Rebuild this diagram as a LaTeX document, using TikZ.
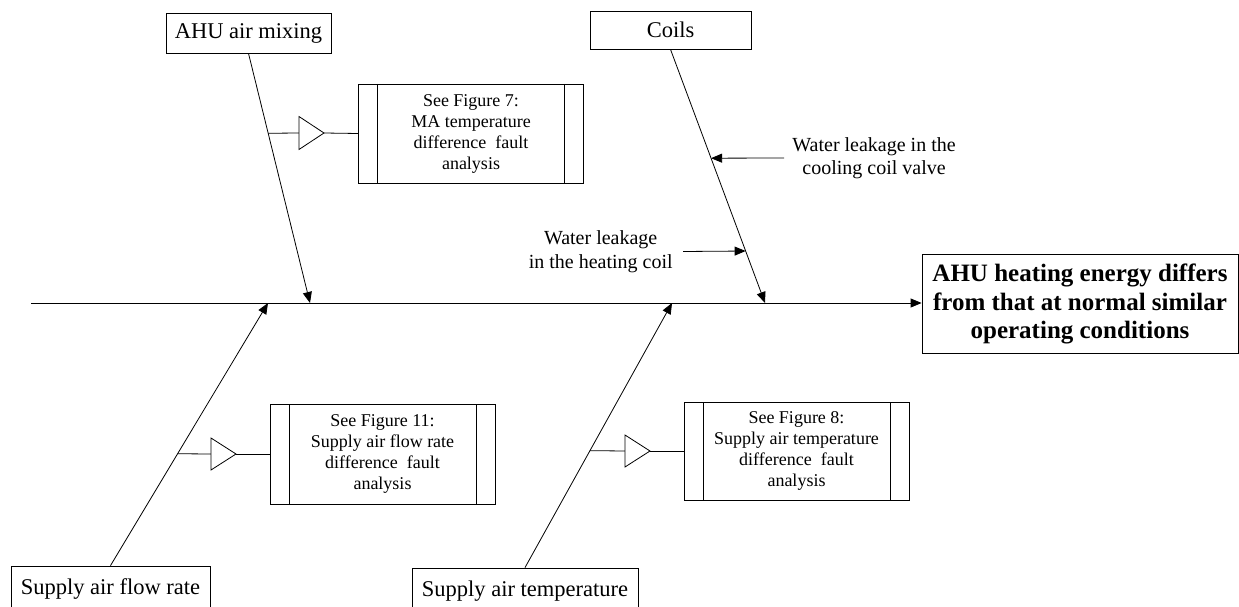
\documentclass[tikz,border=0pt]{standalone}
\usepackage{fontspec}
\setmainfont{Liberation Serif}
\usetikzlibrary{arrows.meta}

\begin{document}
\begin{tikzpicture}[x=1pt, y=-1pt, line width=0.8pt,
  catbox/.style={draw, fill=white, inner sep=0pt, align=center,
    font=\fontsize{22.5}{26}\selectfont},
  subbox/.style={draw, fill=white, inner sep=0pt, align=center,
    minimum width=225pt, minimum height=99pt,
    font=\fontsize{18}{21}\selectfont,
    path picture={
      \draw ([xshift=19pt]path picture bounding box.north west) -- ([xshift=19pt]path picture bounding box.south west);
      \draw ([xshift=-19pt]path picture bounding box.north east) -- ([xshift=-19pt]path picture bounding box.south east);
    }},
  causelabel/.style={inner ysep=0pt, align=center, font=\fontsize{20}{23.5}\selectfont},
  arr/.style={-{Triangle[length=11pt, width=9pt]}},
  tri/.style={draw, fill=white}
]
\useasboundingbox (0,0) rectangle (1239,607);

% effect (head of the fishbone)
\node[draw, inner sep=0pt, align=center, minimum width=316pt, minimum height=99pt,
      font=\fontsize{25}{28.5}\selectfont\bfseries] (eff) at (1080,304)
  {AHU heating energy differs\\from that at normal similar\\operating conditions};

% spine
\coordinate (sp0) at (31,303);
\draw[arr] (sp0) -- (eff.west |- sp0);

% category boxes
\node[catbox, minimum width=165pt, minimum height=40pt] (mix) at (248.5,33) {AHU air mixing};
\node[catbox, minimum width=161pt, minimum height=38pt] (coils) at (670.5,30) {Coils};
\node[catbox, minimum width=199pt, minimum height=46pt] (flow) at (110.5,589) {Supply air flow rate};
\node[catbox, minimum width=226pt, minimum height=46pt] (temp) at (525,591) {Supply air temperature};

% where the bones meet the spine
\coordinate (m1) at (310,303);
\coordinate (c1) at (765,303);
\coordinate (f1) at (268,303);
\coordinate (t1) at (672,303);

\draw[arr] (mix.south) -- (m1);
\draw[arr] (coils.south) -- (c1);
\draw[arr] (flow.north) -- (f1);
\draw[arr] (temp.north) -- (t1);

% points on the bones
\path (mix.south) -- (m1) coordinate[pos=0.32] (mB);
\path (coils.south) -- (c1) coordinate[pos=0.429] (cA) coordinate[pos=0.795] (cB);
\path (flow.north) -- (f1) coordinate[pos=0.426] (fB);
\path (temp.north) -- (t1) coordinate[pos=0.442] (tB);

% causes on the coils bone
\node[causelabel, anchor=west, inner xsep=8pt] (cool) at (784,158)
  {Water leakage in the\\cooling coil valve};
\draw[arr] (cool.west) -- (cA);
\node[causelabel, anchor=east, inner xsep=10pt] (heat) at (683,251.5)
  {Water leakage\\in the heating coil};
\draw[arr] (heat.east) -- (cB);

% sub-analysis references
\node[subbox] (f7) at (471,133.5)
  {See Figure 7:\\MA temperature\\difference\ \ fault\\analysis};
\node[subbox, minimum height=100pt] (f11) at (382.5,454)
  {See Figure 11:\\Supply air flow rate\\difference\ \ fault\\analysis};
\node[subbox, minimum height=98pt] (f8) at (796.5,451)
  {See Figure 8:\\Supply air temperature\\difference\ \ fault\\analysis};

% connectors with open triangles
\coordinate (a7) at (299,133);
\coordinate (a11) at (211,454);
\coordinate (a8) at (625,451);

\draw (mB) -- (a7);
\draw[tri] (a7) ++(0,-16.5) -- ++(25,16.5) coordinate (p7) -- ++(-25,16.5) -- cycle;
\draw (p7) -- (f7.west);

\draw (fB) -- (a11);
\draw[tri] (a11) ++(0,-16) -- ++(25,16) coordinate (p11) -- ++(-25,16) -- cycle;
\draw (p11) -- (f11.west);

\draw (tB) -- (a8);
\draw[tri] (a8) ++(0,-16) -- ++(25,16) coordinate (p8) -- ++(-25,16) -- cycle;
\draw (p8) -- (f8.west);
\end{tikzpicture}
\end{document}
